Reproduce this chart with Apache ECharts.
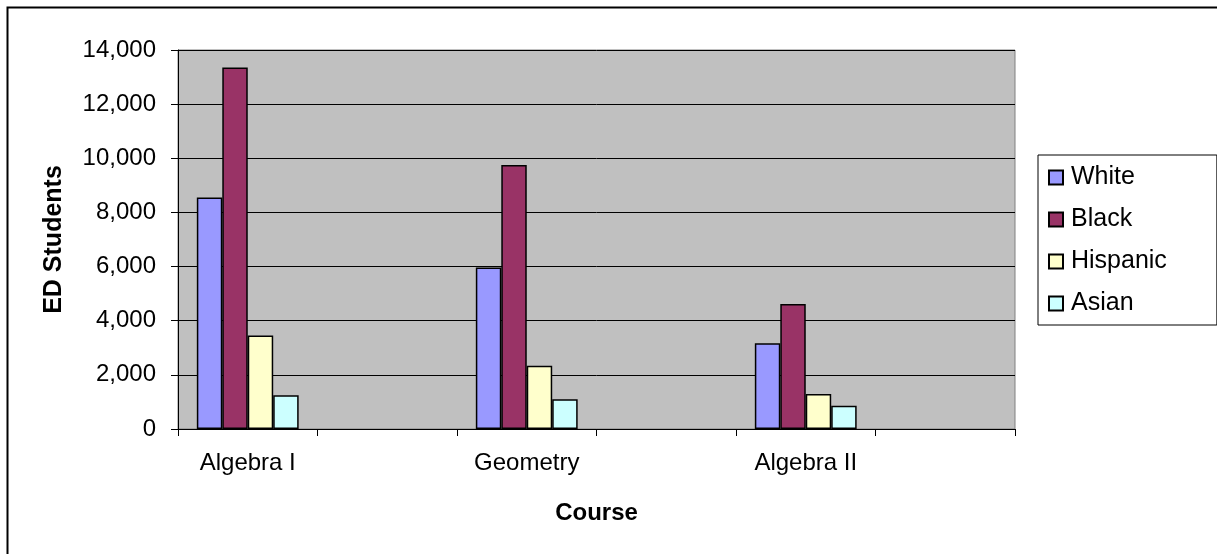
<!DOCTYPE html>
<html>
<head>
<meta charset="utf-8">
<script src="https://cdn.jsdelivr.net/npm/echarts@6/dist/echarts.min.js"></script>
<style>
  html, body { margin: 0; padding: 0; background: #fff; }
  #chart { width: 1217px; height: 554px; }
</style>
</head>
<body>
<div id="chart"></div>
<script>
// courses (empty slots sit between the courses on the category axis)
var categories = ['Algebra I', '', 'Geometry', '', 'Algebra II', ''];
var seriesNames = ['White', 'Black', 'Hispanic', 'Asian'];
var white    = [8550, '-', 5970, '-', 3170, '-'];
var black    = [13350, '-', 9750, '-', 4620, '-'];
var hispanic = [3450, '-', 2340, '-', 1290, '-'];
var asian    = [1250, '-', 1100, '-', 860, '-'];
var colors = ['#9999FF', '#993366', '#FFFFCC', '#CCFFFF'];

var font = 'Liberation Sans, Arial, sans-serif';
var myChart = echarts.init(document.getElementById('chart'));

function barSeries(name, data, color) {
    return {
        name: name,
        type: 'bar',
        data: data,
        barGap: '0%',
        barCategoryGap: '27%',
        itemStyle: { color: color, borderColor: '#000', borderWidth: 1.5 }
    };
}

var option = {
    animation: false,
    backgroundColor: '#fff',
    textStyle: { fontFamily: font, color: '#000' },
    graphic: [
        {
            type: 'rect',
            shape: { x: 7.5, y: 7.5, width: 1300, height: 700 },
            style: { fill: 'none', stroke: '#000', lineWidth: 2 },
            silent: true
        }
    ],
    legend: {
        data: seriesNames,
        orient: 'vertical',
        left: 1038,
        top: 155,
        padding: [10, 50, 9, 10],
        itemGap: 17,
        itemWidth: 14,
        itemHeight: 14,
        icon: 'rect',
        borderColor: '#000',
        borderWidth: 1,
        backgroundColor: '#fff',
        textStyle: { fontFamily: font, fontSize: 25, lineHeight: 25, color: '#000', padding: [0, 0, 0, 3] }
    },
    grid: {
        left: 178,
        top: 50,
        right: 202,
        bottom: 125,
        show: true,
        backgroundColor: '#C0C0C0',
        borderColor: '#808080',
        borderWidth: 1,
        outerBoundsMode: 'none'
    },
    xAxis: {
        type: 'category',
        data: categories,
        name: 'Course',
        nameLocation: 'middle',
        nameGap: 72,
        nameTextStyle: { fontFamily: font, fontSize: 24, fontWeight: 'bold', color: '#000' },
        axisLine: { lineStyle: { color: '#000', width: 1 } },
        axisTick: { show: true, length: 7, alignWithLabel: false, lineStyle: { color: '#000' } },
        axisLabel: { interval: 0, margin: 22, fontFamily: font, fontSize: 24, color: '#000' },
        splitLine: { show: false }
    },
    yAxis: {
        type: 'value',
        min: 0,
        max: 14000,
        interval: 2000,
        name: 'ED Students',
        nameLocation: 'middle',
        nameGap: 111,
        nameTextStyle: { fontFamily: font, fontSize: 25, fontWeight: 'bold', color: '#000' },
        axisLine: { show: true, lineStyle: { color: '#000', width: 1 } },
        axisTick: { show: true, length: 7, lineStyle: { color: '#000' } },
        axisLabel: {
            margin: 22,
            fontFamily: font,
            fontSize: 24,
            color: '#000',
            formatter: function (v) { return v.toLocaleString('en-US'); }
        },
        splitLine: { show: true, lineStyle: { color: '#000', width: 1 } }
    },
    series: [
        barSeries(seriesNames[0], white, colors[0]),
        barSeries(seriesNames[1], black, colors[1]),
        barSeries(seriesNames[2], hispanic, colors[2]),
        barSeries(seriesNames[3], asian, colors[3])
    ]
};

myChart.setOption(option);
</script>
</body>
</html>
